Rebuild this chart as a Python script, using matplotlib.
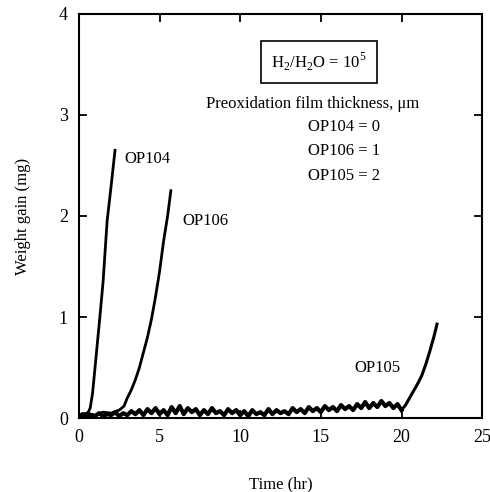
import numpy as np
import matplotlib
matplotlib.use("Agg")
import matplotlib.pyplot as plt

plt.rcParams['font.family'] = ['Liberation Serif', 'DejaVu Serif']
plt.rcParams['mathtext.fontset'] = 'custom'
plt.rcParams['mathtext.rm'] = 'Liberation Serif'

# ---- data ----
t104 = [0, 0.2, 0.4, 0.55, 0.7, 0.85, 1.0, 1.15, 1.3, 1.5, 1.75, 2.0, 2.24]
w104 = [0.03, 0.02, 0.04, 0.05, 0.10, 0.25, 0.50, 0.75, 1.00, 1.35, 1.95, 2.30, 2.65]

t106 = [0, 0.5, 1.0, 1.5, 2.0, 2.5, 2.8, 3.0, 3.25, 3.5, 3.75, 4.0, 4.25,
        4.5, 4.75, 5.0, 5.25, 5.5, 5.7]
w106 = [0.03, 0.05, 0.03, 0.06, 0.05, 0.08, 0.12, 0.20, 0.28, 0.38, 0.50,
        0.65, 0.80, 0.98, 1.20, 1.45, 1.75, 2.00, 2.25]

w105_base = [0.02, 0.04, 0.01, 0.03, 0.02, 0.05, 0.02, 0.04,
             0.03, 0.06, 0.02, 0.05, 0.03, 0.07, 0.04, 0.08,
             0.03, 0.09, 0.05, 0.10, 0.04, 0.08, 0.03, 0.11,
             0.05, 0.12, 0.04, 0.10, 0.06, 0.09, 0.03, 0.08,
             0.04, 0.10, 0.05, 0.07, 0.03, 0.09, 0.05, 0.08,
             0.03, 0.07, 0.02, 0.08, 0.04, 0.06, 0.03, 0.09,
             0.04, 0.08, 0.05, 0.07, 0.04, 0.10, 0.06, 0.09,
             0.05, 0.11, 0.07, 0.10, 0.06, 0.12, 0.08, 0.11,
             0.07, 0.13, 0.09, 0.12, 0.08, 0.14, 0.10, 0.16,
             0.10, 0.15, 0.11, 0.17, 0.12, 0.15, 0.10, 0.14,
             0.08]
t105_base = list(np.arange(len(w105_base)) * 0.25)
t105_rise = [20.25, 20.5, 20.75, 21.0, 21.25, 21.5, 21.75, 22.0, 22.2]
w105_rise = [0.13, 0.20, 0.27, 0.34, 0.42, 0.53, 0.66, 0.80, 0.93]

xticks = [0, 5, 10, 15, 20, 25]
yticks = [0, 1, 2, 3, 4]

fig = plt.figure(figsize=(4.9, 4.92), dpi=100)
ax = fig.add_axes([0.161, 0.150, 0.823, 0.822])

ax.plot(t104, w104, color='black', lw=2.0)
ax.plot(t106, w106, color='black', lw=2.0)
# noisy baseline drawn thicker, like the scanned trace
ax.plot(t105_base, w105_base, color='black', lw=3.0)
ax.plot([t105_base[-1]] + t105_rise, [w105_base[-1]] + w105_rise, color='black', lw=2.2)

ax.set_xlim(0, 25)
ax.set_ylim(0, 4)
ax.set_xticks(xticks)
ax.set_yticks(yticks)
ax.tick_params(direction='in', top=True, right=True, length=6, width=1.3,
               labelsize=13, pad=8)
for s in ax.spines.values():
    s.set_linewidth(1.5)

ax.set_xlabel('Time (hr)', fontsize=12, labelpad=22)
ax.set_ylabel('Weight gain (mg)', fontsize=12, labelpad=20)

ax.text(2.8, 2.56, 'OP104', fontsize=12, va='center')
ax.text(6.4, 1.95, 'OP106', fontsize=12, va='center')
ax.text(17.1, 0.5, 'OP105', fontsize=12, va='center')

ax.text(14.9, 3.52, r'H$_2$/H$_2$O = 10$^5$', fontsize=12, ha='center', va='center',
        bbox=dict(boxstyle='square,pad=0.6', fc='white', ec='black', lw=1.2))
ax.text(14.5, 3.11, 'Preoxidation film thickness, \u03bcm', fontsize=12,
        ha='center', va='center')
ax.text(14.2, 2.88, 'OP104 = 0', fontsize=12, va='center')
ax.text(14.2, 2.64, 'OP106 = 1', fontsize=12, va='center')
ax.text(14.2, 2.40, 'OP105 = 2', fontsize=12, va='center')

fig.savefig('out.png', dpi=100)
